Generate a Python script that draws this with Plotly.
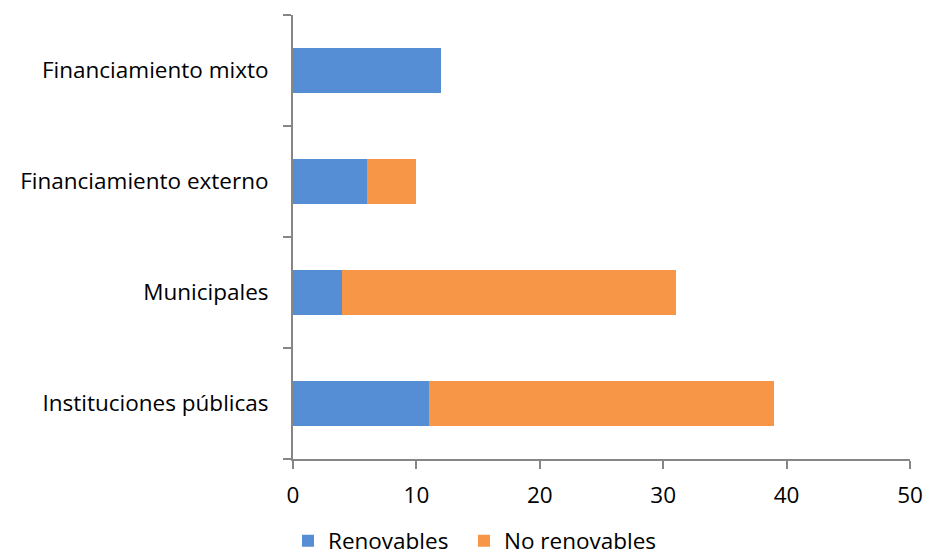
import plotly.graph_objects as go

categories = ["Instituciones públicas", "Municipales", "Financiamiento externo", "Financiamiento mixto"]
renovables = [11, 4, 6, 12]
no_renovables = [28, 27, 4, 0]
x_ticks = [0, 10, 20, 30, 40, 50]

font_family = "Open Sans"
font_size = 22.5
axis_color = "#868686"

fig = go.Figure()
fig.add_trace(go.Bar(
    y=categories, x=renovables, name="Renovables", orientation="h",
    marker=dict(color="#558ED5", line=dict(width=0)), legend="legend",
))
fig.add_trace(go.Bar(
    y=categories, x=no_renovables, name="No renovables", orientation="h",
    marker=dict(color="#F79646", line=dict(width=0)), legend="legend2",
))

legend_common = dict(
    orientation="h", xref="container", yref="container",
    xanchor="left", y=16 / 557, yanchor="middle",
    font=dict(size=font_size), bgcolor="rgba(0,0,0,0)",
)

fig.update_layout(
    barmode="stack",
    bargap=0.595,
    width=925, height=557,
    margin=dict(l=293, r=15, t=15, b=98, autoexpand=False),
    paper_bgcolor="white", plot_bgcolor="white",
    font=dict(family=font_family, size=font_size, color="#000000"),
    showlegend=True,
    legend=dict(x=288 / 925, **legend_common),
    legend2=dict(x=464 / 925, **legend_common),
    xaxis=dict(
        range=[0, 50], tickvals=x_ticks, showgrid=False, zeroline=False,
        showline=True, linecolor=axis_color, linewidth=2,
        ticks="outside", ticklen=8, tickwidth=2, tickcolor=axis_color,
        ticklabelstandoff=7, automargin=False,
    ),
    yaxis=dict(
        showgrid=False, zeroline=False, showline=True, linecolor=axis_color, linewidth=2,
        ticks="outside", ticklen=8, tickwidth=2, tickcolor=axis_color,
        tickson="boundaries", ticklabelstandoff=18, automargin=False,
    ),
)

fig.write_html("out.html")
